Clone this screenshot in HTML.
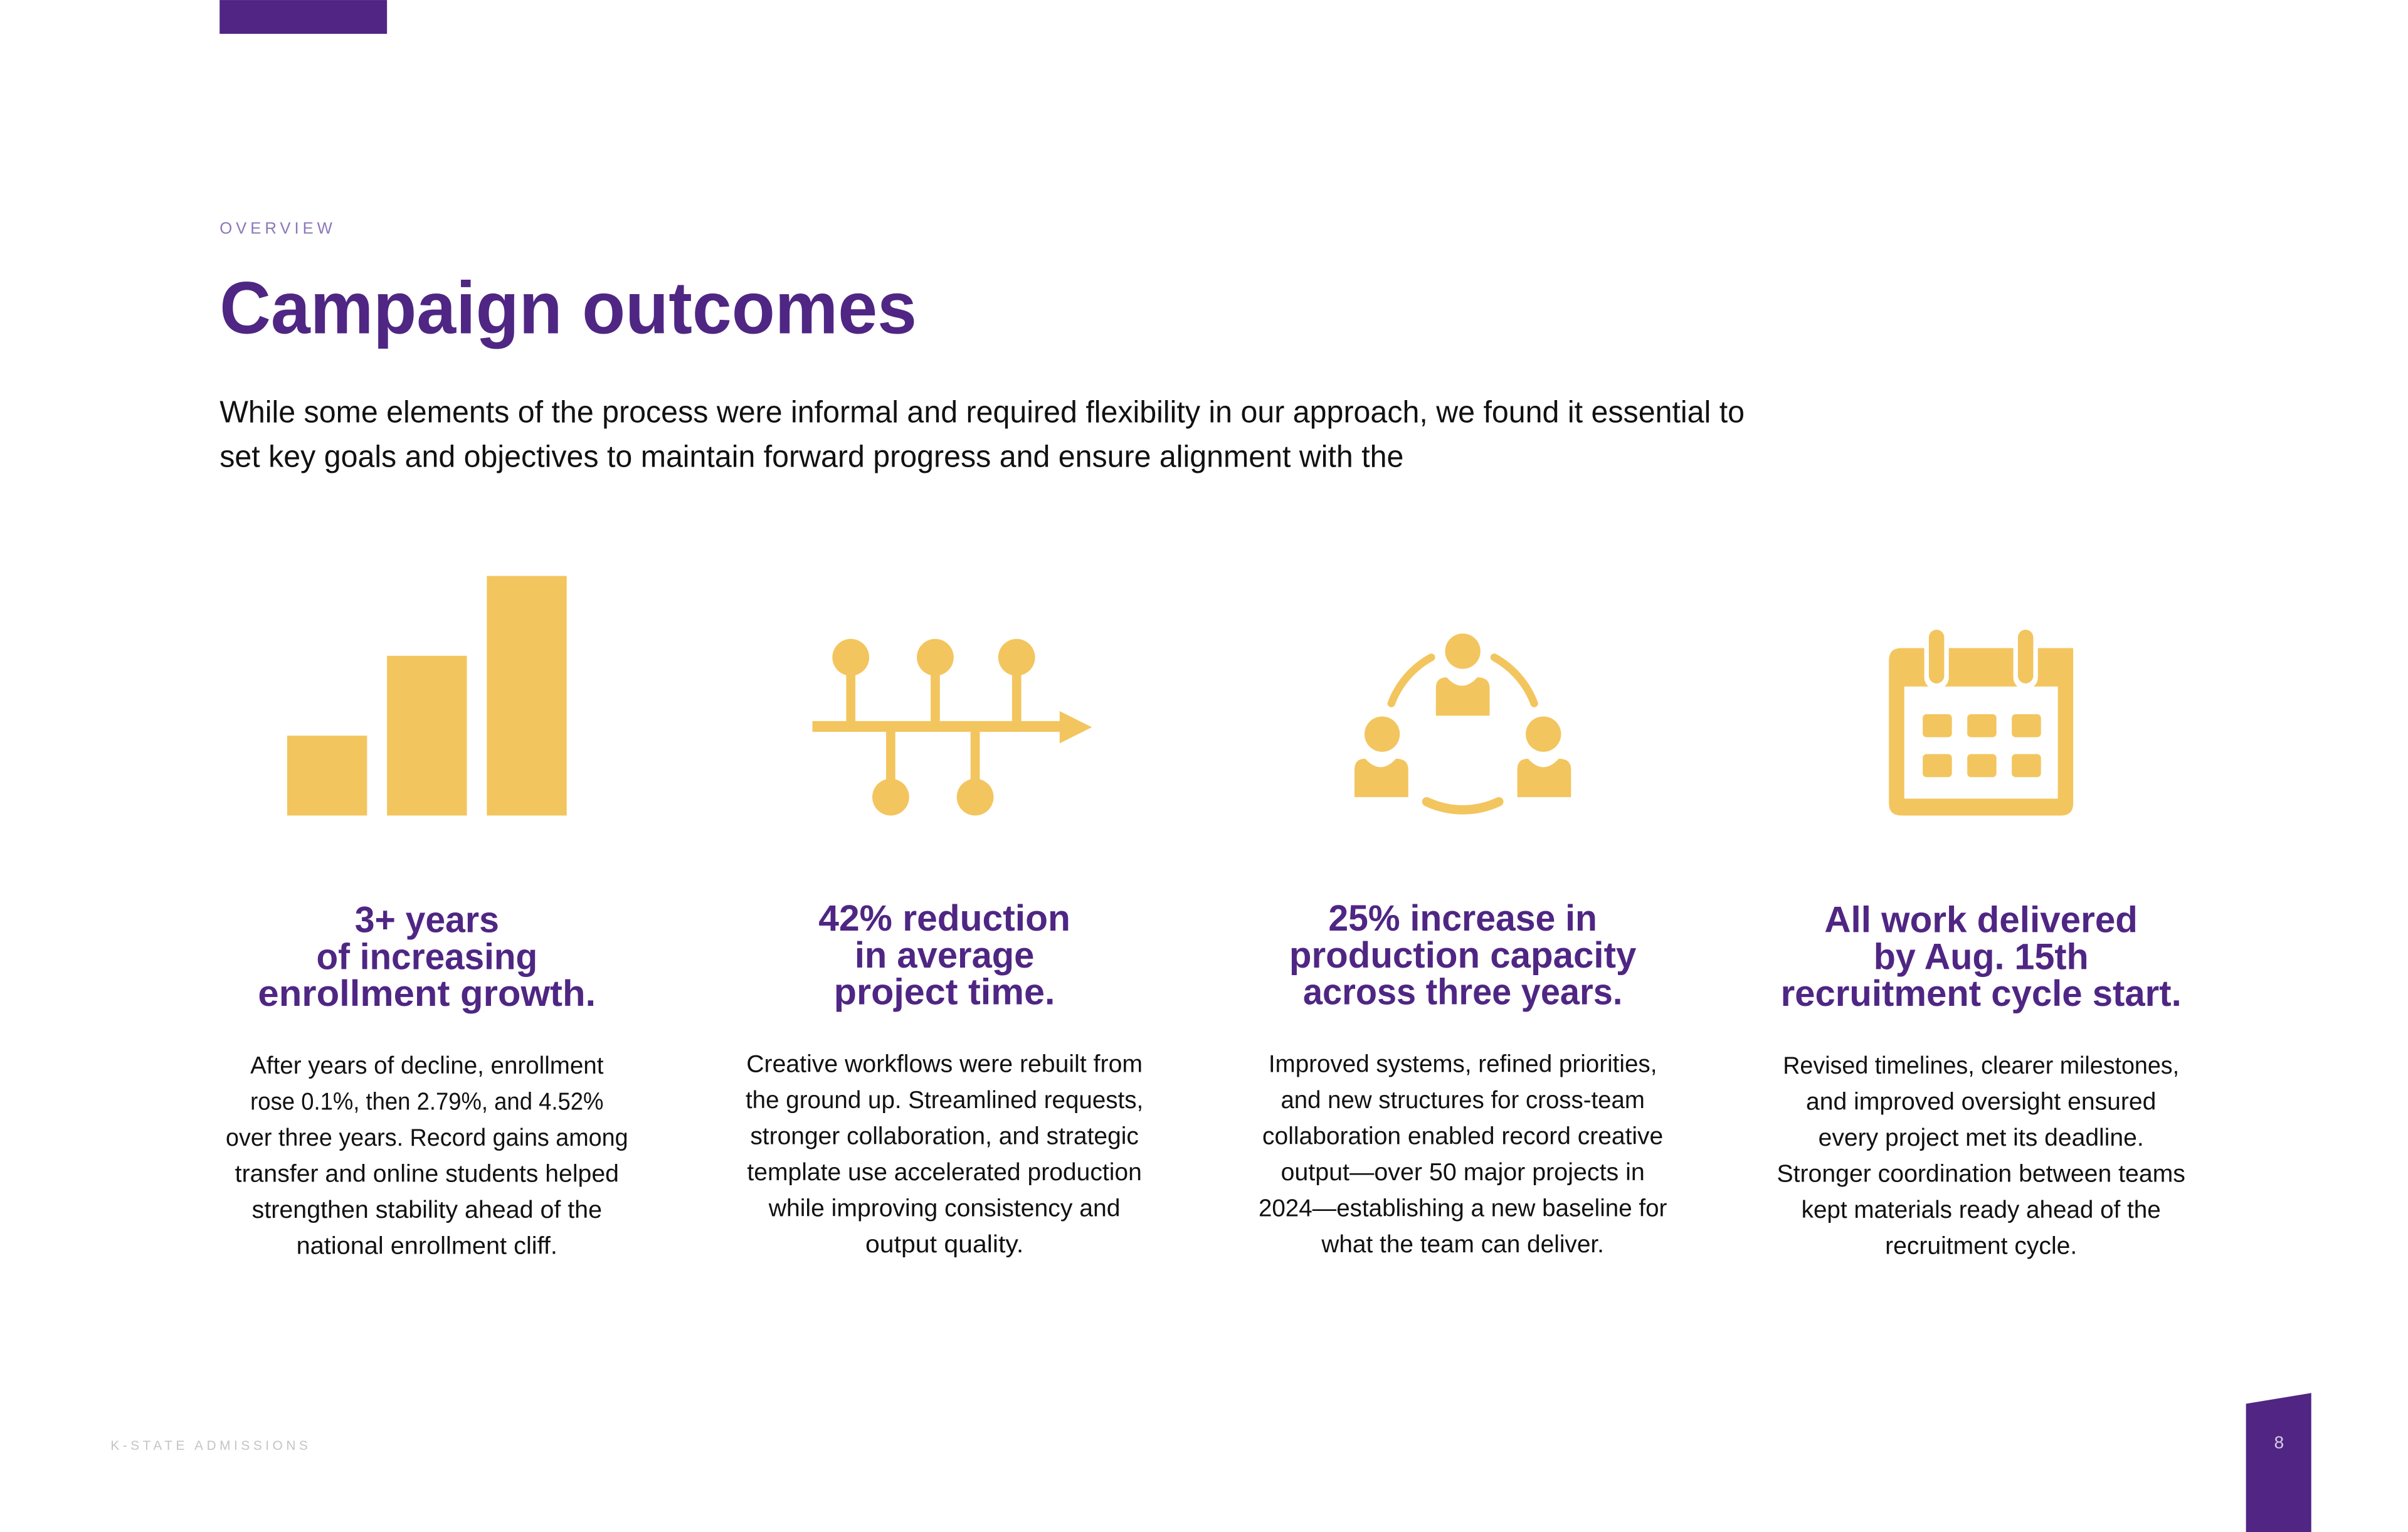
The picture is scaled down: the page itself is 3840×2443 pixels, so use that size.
<!DOCTYPE html>
<html><head><meta charset="utf-8"><style>
html,body{margin:0;padding:0;background:#fff;}
svg{display:block;}
.h{font-family:"Liberation Sans",sans-serif;font-weight:bold;fill:#4f2683;}
.b{font-family:"Liberation Sans",sans-serif;fill:#111;}
</style></head><body>
<svg width="3840" height="2443" viewBox="0 0 1568 997.5" xmlns="http://www.w3.org/2000/svg">
<rect x="143" y="0" width="109" height="22" fill="#512584"/>
<text x="143" y="152" font-family="Liberation Sans,sans-serif" font-size="10.5" fill="#8c77b8" letter-spacing="2.6" textLength="76" lengthAdjust="spacing">OVERVIEW</text>
<text class="h" x="143" y="217" font-size="48" textLength="454" lengthAdjust="spacingAndGlyphs">Campaign outcomes</text>
<g class="b" font-size="20">
<text x="143" y="275" textLength="993" lengthAdjust="spacingAndGlyphs">While some elements of the process were informal and required flexibility in our approach, we found it essential to</text>
<text x="143" y="304" textLength="771" lengthAdjust="spacingAndGlyphs">set key goals and objectives to maintain forward progress and ensure alignment with the</text>
</g>
<g id="bars" fill="#f3c55e"></g>
<g fill="#f3c55e" stroke="#f3c55e">
<line x1="529" y1="473" x2="692" y2="473" stroke-width="7"/>
<polygon points="690,463 711,473.5 690,484" stroke="none"/>
<line x1="554" y1="430" x2="554" y2="472" stroke-width="6"/>
<line x1="609" y1="430" x2="609" y2="472" stroke-width="6"/>
<line x1="662" y1="430" x2="662" y2="472" stroke-width="6"/>
<line x1="580" y1="475" x2="580" y2="517" stroke-width="6"/>
<line x1="635" y1="475" x2="635" y2="517" stroke-width="6"/>
<circle cx="554" cy="428" r="12" stroke="none"/><circle cx="609" cy="428" r="12" stroke="none"/><circle cx="662" cy="428" r="12" stroke="none"/>
<circle cx="580" cy="519" r="12" stroke="none"/><circle cx="635" cy="519" r="12" stroke="none"/>
</g>
<g fill="#f3c55e">
<circle cx="952.5" cy="424" r="11.5"/>
<path d="M935 466 V448 Q935 441 942 441 Q952 452 962 441 Q970 441 970 448 V466Z"/>
<circle cx="900" cy="478" r="11.5"/>
<path d="M882 519 V501 Q882 494 889 494 Q899 505 909 494 Q917 494 917 501 V519Z"/>
<circle cx="1005" cy="478" r="11.5"/>
<path d="M988 519 V501 Q988 494 995 494 Q1005 505 1015 494 Q1023 494 1023 501 V519Z"/>
<path d="M906 458 A57 57 0 0 1 932 428" fill="none" stroke="#f3c55e" stroke-width="5" stroke-linecap="round"/>
<path d="M973 428 A57 57 0 0 1 999 458" fill="none" stroke="#f3c55e" stroke-width="5" stroke-linecap="round"/>
<path d="M929 522 A55 55 0 0 0 976 522" fill="none" stroke="#f3c55e" stroke-width="6" stroke-linecap="round"/>
</g>
<g fill="#f3c55e">
<path d="M1238 422 H1350 Q1350 422 1350 430 V523 Q1350 531 1342 531 H1238 Q1230 531 1230 523 V430 Q1230 422 1238 422Z"/>
<rect x="1240" y="447" width="100" height="73" fill="#fff"/>
<rect x="1253" y="406" width="16" height="43" rx="8" fill="#fff"/>
<rect x="1311" y="406" width="16" height="43" rx="8" fill="#fff"/>
<rect x="1256" y="410" width="10" height="35" rx="5"/>
<rect x="1314" y="410" width="10" height="35" rx="5"/>
<rect x="1252" y="465" width="19" height="15" rx="2.5"/><rect x="1281" y="465" width="19" height="15" rx="2.5"/><rect x="1310" y="465" width="19" height="15" rx="2.5"/>
<rect x="1252" y="491" width="19" height="15" rx="2.5"/><rect x="1281" y="491" width="19" height="15" rx="2.5"/><rect x="1310" y="491" width="19" height="15" rx="2.5"/>
</g>
<g class="h" font-size="24" text-anchor="middle">
<text x="278" y="607" textLength="94" lengthAdjust="spacingAndGlyphs">3+ years</text>
<text x="278" y="631" textLength="144" lengthAdjust="spacingAndGlyphs">of increasing</text>
<text x="278" y="655" textLength="220" lengthAdjust="spacingAndGlyphs">enrollment growth.</text>
</g>
<g class="h" font-size="24" text-anchor="middle">
<text x="615" y="606" textLength="164" lengthAdjust="spacingAndGlyphs">42% reduction</text>
<text x="615" y="630" textLength="117" lengthAdjust="spacingAndGlyphs">in average</text>
<text x="615" y="654" textLength="144" lengthAdjust="spacingAndGlyphs">project time.</text>
</g>
<g class="h" font-size="24" text-anchor="middle">
<text x="952.5" y="606" textLength="175" lengthAdjust="spacingAndGlyphs">25% increase in</text>
<text x="952.5" y="630" textLength="226" lengthAdjust="spacingAndGlyphs">production capacity</text>
<text x="952.5" y="654" textLength="208" lengthAdjust="spacingAndGlyphs">across three years.</text>
</g>
<g class="h" font-size="24" text-anchor="middle">
<text x="1290" y="607" textLength="204" lengthAdjust="spacingAndGlyphs">All work delivered</text>
<text x="1290" y="631" textLength="140" lengthAdjust="spacingAndGlyphs">by Aug. 15th</text>
<text x="1290" y="655" textLength="261" lengthAdjust="spacingAndGlyphs">recruitment cycle start.</text>
</g>
<g class="b" font-size="16" text-anchor="middle">
<text x="278" y="699" textLength="230" lengthAdjust="spacingAndGlyphs">After years of decline, enrollment</text>
<text x="278" y="722.5" textLength="230" lengthAdjust="spacingAndGlyphs">rose 0.1%, then 2.79%, and 4.52%</text>
<text x="278" y="746" textLength="262" lengthAdjust="spacingAndGlyphs">over three years. Record gains among</text>
<text x="278" y="769.5" textLength="250" lengthAdjust="spacingAndGlyphs">transfer and online students helped</text>
<text x="278" y="793" textLength="228" lengthAdjust="spacingAndGlyphs">strengthen stability ahead of the</text>
<text x="278" y="816.5" textLength="170" lengthAdjust="spacingAndGlyphs">national enrollment cliff.</text>
</g>
<g class="b" font-size="16" text-anchor="middle">
<text x="615" y="698" textLength="258" lengthAdjust="spacingAndGlyphs">Creative workflows were rebuilt from</text>
<text x="615" y="721.5" textLength="259" lengthAdjust="spacingAndGlyphs">the ground up. Streamlined requests,</text>
<text x="615" y="745" textLength="253" lengthAdjust="spacingAndGlyphs">stronger collaboration, and strategic</text>
<text x="615" y="768.5" textLength="257" lengthAdjust="spacingAndGlyphs">template use accelerated production</text>
<text x="615" y="792" textLength="229" lengthAdjust="spacingAndGlyphs">while improving consistency and</text>
<text x="615" y="815.5" textLength="103" lengthAdjust="spacingAndGlyphs">output quality.</text>
</g>
<g class="b" font-size="16" text-anchor="middle">
<text x="952.5" y="698" textLength="253" lengthAdjust="spacingAndGlyphs">Improved systems, refined priorities,</text>
<text x="952.5" y="721.5" textLength="237" lengthAdjust="spacingAndGlyphs">and new structures for cross-team</text>
<text x="952.5" y="745" textLength="261" lengthAdjust="spacingAndGlyphs">collaboration enabled record creative</text>
<text x="952.5" y="768.5" textLength="237" lengthAdjust="spacingAndGlyphs">output—over 50 major projects in</text>
<text x="952.5" y="792" textLength="266" lengthAdjust="spacingAndGlyphs">2024—establishing a new baseline for</text>
<text x="952.5" y="815.5" textLength="184" lengthAdjust="spacingAndGlyphs">what the team can deliver.</text>
</g>
<g class="b" font-size="16" text-anchor="middle">
<text x="1290" y="699" textLength="258" lengthAdjust="spacingAndGlyphs">Revised timelines, clearer milestones,</text>
<text x="1290" y="722.5" textLength="228" lengthAdjust="spacingAndGlyphs">and improved oversight ensured</text>
<text x="1290" y="746" textLength="212" lengthAdjust="spacingAndGlyphs">every project met its deadline.</text>
<text x="1290" y="769.5" textLength="266" lengthAdjust="spacingAndGlyphs">Stronger coordination between teams</text>
<text x="1290" y="793" textLength="234" lengthAdjust="spacingAndGlyphs">kept materials ready ahead of the</text>
<text x="1290" y="816.5" textLength="125" lengthAdjust="spacingAndGlyphs">recruitment cycle.</text>
</g>
<text x="72" y="944" font-family="Liberation Sans,sans-serif" font-size="8.5" fill="#c4c4c4" letter-spacing="1.6" textLength="130" lengthAdjust="spacing">K-STATE ADMISSIONS</text>
<polygon points="1462.5,914 1505,907 1505,998 1462.5,998" fill="#512584"/>
<text x="1484" y="943" text-anchor="middle" font-family="Liberation Sans,sans-serif" font-size="11.5" fill="#d8cce8">8</text>
</svg>
<script>
const barCategories = ["year-1", "year-2", "year-3"];
const barValues = [1, 2, 3];
(function(){
  const g = document.getElementById('bars');
  const x0 = 187, bw = 52, gap = 13, baseY = 531, unit = 52;
  const yScale = v => baseY - v * unit;
  barValues.forEach((v, i) => {
    const r = document.createElementNS('http://www.w3.org/2000/svg', 'rect');
    r.setAttribute('x', x0 + i * (bw + gap));
    r.setAttribute('y', yScale(v));
    r.setAttribute('width', bw);
    r.setAttribute('height', baseY - yScale(v));
    
    
    g.appendChild(r);
  });
})();
</script>
</body></html>
